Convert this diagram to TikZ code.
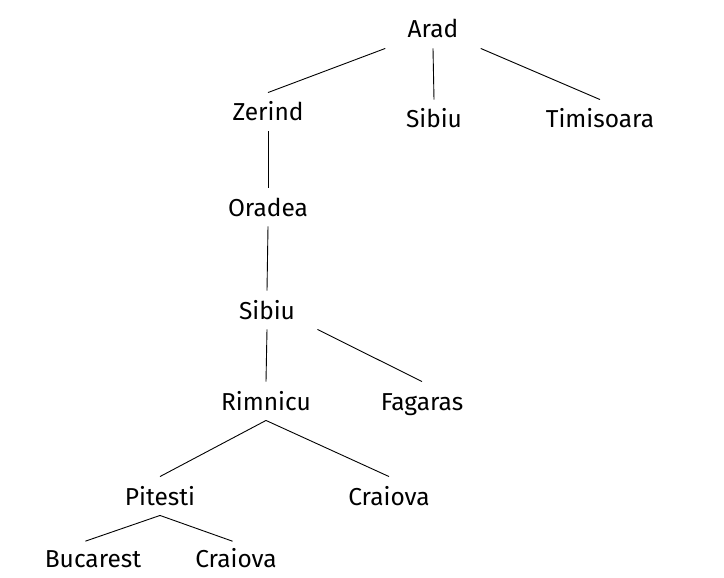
\documentclass[tikz,border=0pt]{standalone}
\usepackage{fontspec}
\setmainfont{Fira Sans}
\begin{document}
\begin{tikzpicture}[x=1pt,y=-1pt,line width=0.9pt,
        city/.style={anchor=base,inner xsep=4pt,inner ysep=10pt,text height=18pt,text depth=0pt,font=\fontsize{24.5}{28}\selectfont},
        wide/.style={inner xsep=22pt}]
        \useasboundingbox (0,0) rectangle (724,578);
        \node [city,wide] (arad) at (433,38) {Arad};
        \node [city] (zerind) at (268,121) {Zerind};
        \node [city] (sibiuA) at (434,128) {Sibiu};
        \node [city] (timisoara) at (600,128) {Timisoara};
        \node [city] (oradea) at (268,216) {Oradea};
        \node [city,wide] (sibiuB) at (267,319) {Sibiu};
        \node [city] (rimnicu) at (266,410) {Rimnicu};
        \node [city] (fagaras) at (422,410) {Fagaras};
        \node [city] (pitesti) at (160,505) {Pitesti};
        \node [city] (craiovaA) at (389,505) {Craiova};
        \node [city] (bucarest) at (93,567) {Bucarest};
        \node [city] (craiovaB) at (236,567) {Craiova};
        \draw [black] (arad.south west) -- (zerind.north);
        \draw [black] (arad.south) -- (sibiuA.north);
        \draw [black] (arad.south east) -- (timisoara.north);
        \draw [black] (zerind.south) -- (oradea.north);
        \draw [black] (oradea.south) -- (sibiuB.north);
        \draw [black] (sibiuB.south) -- (rimnicu.north);
        \draw [black] (sibiuB.south east) -- (fagaras.north);
        \draw [black] (rimnicu.south) -- (pitesti.north);
        \draw [black] (rimnicu.south) -- (craiovaA.north);
        \draw [black,shorten >=-8pt] (pitesti.south) -- (bucarest.north);
        \draw [black,shorten >=-8pt] (pitesti.south) -- ([xshift=-11pt]craiovaB.north);
\end{tikzpicture}
\end{document}
